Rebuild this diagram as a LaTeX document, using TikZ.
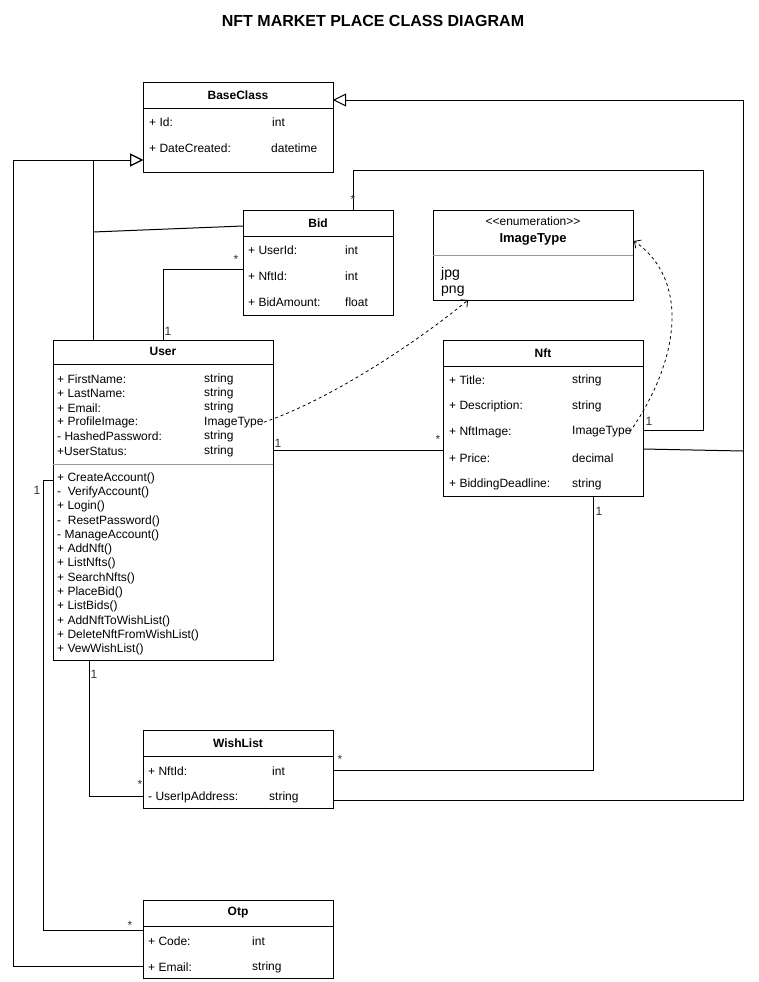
\documentclass[tikz,border=0pt]{standalone}
\usepackage{fontspec}
\setmainfont{Liberation Sans}
\usetikzlibrary{arrows.meta, calc}

\begin{document}
\begin{tikzpicture}[
    x=1pt, y=-1pt,
    cls/.style={draw, line width=1pt, anchor=north west, inner sep=0pt, outer sep=0pt},
    hdr/.style={font=\bfseries\fontsize{12}{14}\selectfont},
    attr/.style={anchor=west, inner sep=0pt, yshift=-1pt, font=\fontsize{12}{14}\selectfont},
    sep/.style={line width=1pt},
    gsep/.style={line width=1pt, black!40},
    line/.style={line width=1pt},
    gen/.style={line, -{Triangle[open, length=13pt, width=13pt]}},
    dep/.style={line width=0.8pt, dash pattern=on 3pt off 3pt, -{Straight Barb[length=5pt, width=10pt]}},
    mult/.style={font=\fontsize{12}{14}\selectfont, inner sep=1pt, text=black!80},
]
\useasboundingbox (0,0) rectangle (758,982);

\node[font=\bfseries\fontsize{16}{19}\selectfont] (title) at (373,21) {NFT MARKET PLACE CLASS DIAGRAM};

% BaseClass
\node[cls, minimum width=190pt, minimum height=90pt] (base) at (143,82) {};
\node[hdr] (baseH) at (238,95) {BaseClass};
\draw[sep] ($(base.north west)+(0,26)$) -- ($(base.north east)+(0,26)$);
\node[attr] (baseA1) at (149,121) {+ Id:};
\node[attr] (baseT1) at (272,121) {int};
\node[attr] (baseA2) at (149,147) {+ DateCreated:};
\node[attr] (baseT2) at (271,147) {datetime};

% Bid
\node[cls, minimum width=150pt, minimum height=105pt] (bid) at (243,210) {};
\node[hdr] (bidH) at (318,223) {Bid};
\draw[sep] ($(bid.north west)+(0,26)$) -- ($(bid.north east)+(0,26)$);
\foreach \a/\t [count=\i from 0] in {+ UserId:/int, + NftId:/int, + BidAmount:/float} {
  \node[attr] (bidA\i) at (248,249+26*\i) {\a};
  \node[attr] (bidT\i) at (345,249+26*\i) {\t};
}

% ImageType enumeration
\node[cls, minimum width=200pt, minimum height=90pt] (imgt) at (433,210) {};
\node[font=\fontsize{12}{14}\selectfont] (imgtS) at (533,221) {<\kern0pt<enumeration>\kern0pt>};
\node[font=\bfseries\fontsize{13}{15}\selectfont] (imgtH) at (533,239) {ImageType};
\draw[gsep] ($(imgt.north west)+(0,45)$) -- ($(imgt.north east)+(0,45)$);
\node[attr, font=\fontsize{14}{16}\selectfont] (imgtJ) at (441,273) {jpg};
\node[attr, font=\fontsize{14}{16}\selectfont] (imgtP) at (441,290) {png};

% User
\node[cls, minimum width=220pt, minimum height=320pt] (user) at (53,340) {};
\node[hdr] (userH) at (163,351) {User};
\draw[sep] ($(user.north west)+(0,24)$) -- ($(user.north east)+(0,24)$);
\foreach \a/\t [count=\i from 0] in {+ FirstName:/string, + LastName:/string, + Email:/string,
    + ProfileImage:/ImageType, - HashedPassword:/string, +UserStatus:/string} {
  \node[attr] (ua\i) at (57,378+14.4*\i) {\a};
  \node[attr] (ut\i) at (204,378+14.4*\i) {\t};
}
\draw[gsep] ($(user.north west)+(0,124)$) -- ($(user.north east)+(0,124)$);
\foreach \m [count=\i from 0] in {+ CreateAccount(), -~~VerifyAccount(), + Login(), -~~ResetPassword(),
    - ManageAccount(), + AddNft(), + ListNfts(), + SearchNfts(), + PlaceBid(), + ListBids(),
    + AddNftToWishList(), + DeleteNftFromWishList(), + VewWishList()} {
  \node[attr] (um\i) at (57,477+14.3*\i) {\m};
}

% Nft
\node[cls, minimum width=200pt, minimum height=156pt] (nft) at (443,340) {};
\node[hdr] (nftH) at (543,353) {Nft};
\draw[sep] ($(nft.north west)+(0,26)$) -- ($(nft.north east)+(0,26)$);
\foreach \a/\t [count=\i from 0] in {+ Title:/string, + Description:/string, + NftImage:/ImageType,
    + Price:/decimal, + BiddingDeadline:/string} {
  \node[attr] (na\i) at (449,379+26*\i) {\a};
  \node[attr] (nt\i) at (572,379+26*\i) {\t};
}

% WishList
\node[cls, minimum width=190pt, minimum height=78pt] (wish) at (143,730) {};
\node[hdr] (wishH) at (238,743) {WishList};
\draw[sep] ($(wish.north west)+(0,26)$) -- ($(wish.north east)+(0,26)$);
\node[attr] (wishA1) at (148,770) {+ NftId:};
\node[attr] (wishT1) at (272,770) {int};
\node[attr] (wishA2) at (148,796) {- UserIpAddress:};
\node[attr] (wishT2) at (269,796) {string};

% Otp
\node[cls, minimum width=190pt, minimum height=78pt] (otp) at (143,900) {};
\node[hdr] (otpH) at (238,913) {Otp};
\draw[sep] ($(otp.north west)+(0,26)$) -- ($(otp.north east)+(0,26)$);
\node[attr] (otpA1) at (148,940) {+ Code:};
\node[attr] (otpT1) at (252,940) {int};
\node[attr] (otpA2) at (148,966) {+ Email:};
\node[attr] (otpT2) at (252,966) {string};

% Inheritance
\coordinate (inhL) at (13,160);
\coordinate (inhR) at (743,100);
\coordinate (bidJoin) at (93,232);
\coordinate (nftJoin) at (743,451);
\draw[gen] ($(user.north west)+(40,0)$) |- ($(base.south west)+(0,-12)$);
\draw[gen] ($(otp.south west)+(0,-12)$) -| (inhL) -- ($(base.south west)+(0,-12)$);
\draw[line] ($(bid.north west)+(0,16)$) -- (bidJoin);
\draw[gen] ($(wish.south east)+(0,-8)$) -| (inhR) -- ($(base.north east)+(0,18)$);
\draw[line] ($(nft.south east)+(0,-47)$) -- (nftJoin);

% Associations
\coordinate (bidNft) at (703,170);
\draw[line] ($(bid.north west)+(110,0)$) |- (bidNft) |- ($(nft.north east)+(0,90)$);
\node[mult] (mBidN1) at (353,199) {*};
\node[mult] (mBidN2) at (649,421) {1};

\draw[line] ($(user.north west)+(110,0)$) |- ($(bid.north west)+(0,59)$);
\node[mult] (mUB1) at (168,331) {1};
\node[mult] (mUB2) at (236,259) {*};

\draw[line] ($(user.north east)+(0,110)$) -- ($(nft.north west)+(0,110)$);
\node[mult] (mUN1) at (278,443) {1};
\node[mult] (mUN2) at (438,439) {*};

\draw[line] ($(user.south west)+(36,0)$) |- ($(wish.south west)+(0,-12)$);
\node[mult] (mUW1) at (94,674) {1};
\node[mult] (mUW2) at (140,784) {*};

\draw[line] ($(nft.south west)+(150,0)$) |- ($(wish.north east)+(0,40)$);
\node[mult] (mNW1) at (599,511) {1};
\node[mult] (mNW2) at (340,759) {*};

\draw[line] ($(user.north west)+(0,140)$) -- ++(-10,0) |- ($(otp.north west)+(0,30)$);
\node[mult] (mUO1) at (37,490) {1};
\node[mult, fill=white] (mUO2) at (130,925) {*};

% Enumeration usage
\draw[dep] (ut3.east) .. controls (330,400) and (420,340) .. ($(imgt.south west)+(35,0)$);
\draw[dep] ($(nt2.east)+(-2,0)$) .. controls (680,360) and (690,280) .. ($(imgt.north east)+(1,31)$);

\end{tikzpicture}
\end{document}
